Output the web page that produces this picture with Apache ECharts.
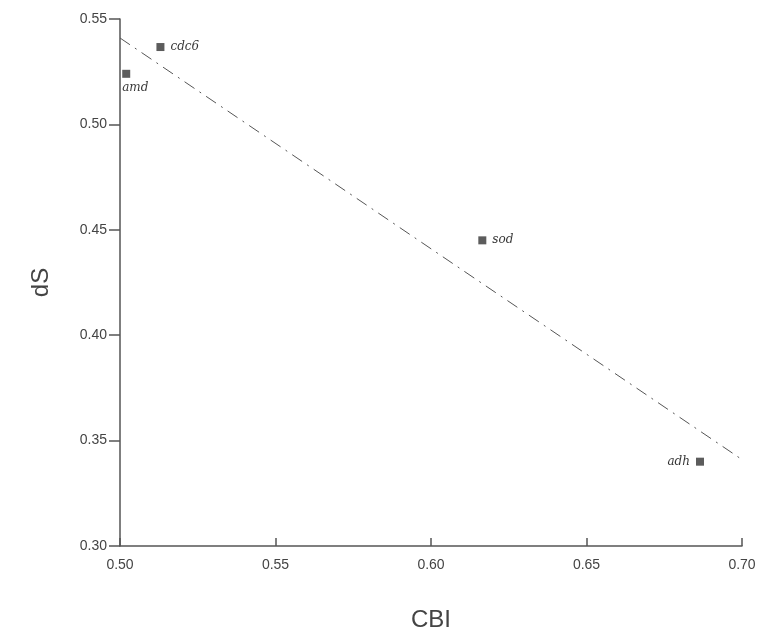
<!DOCTYPE html>
<html>
<head>
<meta charset="utf-8">
<script src="https://cdn.jsdelivr.net/npm/echarts@6/dist/echarts.min.js"></script>
<style>
  html, body { margin: 0; padding: 0; background: #fff; }
  #chart { width: 760px; height: 637px; }
</style>
</head>
<body>
<div id="chart"></div>
<script>
// gene points
const genes = ['cdc6', 'amd', 'sod', 'adh']
const cbi = [0.513, 0.502, 0.6165, 0.6865]
const dS = [0.5367, 0.524, 0.445, 0.340]
const labelPos = ['right', 'bottom', 'right', 'left']

// regression line end points
const fitX = [0.50, 0.70]
const fitY = [0.541, 0.341]

const xTicks = [0.50, 0.55, 0.60, 0.65, 0.70]
const yTicks = [0.30, 0.35, 0.40, 0.45, 0.50, 0.55]

const axisColor = '#555'

const points = genes.map((g, i) => ({
  value: [cbi[i], dS[i]],
  name: g,
  label: {
    position: labelPos[i],
    align: labelPos[i] === 'bottom' ? 'left' : undefined,
    offset: labelPos[i] === 'bottom' ? [-4, -2] : [0, 0]
  }
}))

const chart = echarts.init(document.getElementById('chart'))
chart.setOption({
  animation: false,
  grid: { left: 120, right: 18, top: 19, bottom: 90, containLabel: false },
  xAxis: {
    type: 'value',
    min: xTicks[0],
    max: xTicks[xTicks.length - 1],
    interval: 0.05,
    name: 'CBI',
    nameLocation: 'middle',
    nameGap: 62,
    nameTextStyle: { fontSize: 24, color: '#444', fontFamily: 'Liberation Sans' },
    axisLine: { lineStyle: { color: axisColor, width: 1.5 } },
    axisTick: { inside: true, length: 8, lineStyle: { color: axisColor, width: 1.5 } },
    axisLabel: { fontSize: 14, color: '#444', fontFamily: 'Liberation Sans', margin: 12,
      formatter: v => v.toFixed(2) },
    splitLine: { show: false }
  },
  yAxis: {
    type: 'value',
    min: yTicks[0],
    max: yTicks[yTicks.length - 1],
    interval: 0.05,
    name: 'dS',
    nameLocation: 'middle',
    nameGap: 67,
    nameTextStyle: { fontSize: 24, color: '#444', fontFamily: 'Liberation Sans' },
    axisLine: { lineStyle: { color: axisColor, width: 1.5 } },
    axisTick: { length: 11, lineStyle: { color: axisColor, width: 1.5 } },
    axisLabel: { fontSize: 14, color: '#444', fontFamily: 'Liberation Sans', margin: 13,
      formatter: v => v.toFixed(2) },
    splitLine: { show: false }
  },
  series: [
    {
      type: 'line',
      data: fitX.map((x, i) => [x, fitY[i]]),
      symbol: 'none',
      silent: true,
      lineStyle: { color: '#555', width: 1, type: [12, 6, 2, 6] }
    },
    {
      type: 'scatter',
      data: points,
      symbol: 'rect',
      symbolSize: 8,
      itemStyle: { color: '#333' },
      label: {
        show: true,
        formatter: p => p.name,
        fontFamily: 'DejaVu Serif',
        fontStyle: 'italic',
        fontSize: 12,
        color: '#000',
        distance: 6
      }
    }
  ]
})
</script>
</body>
</html>
